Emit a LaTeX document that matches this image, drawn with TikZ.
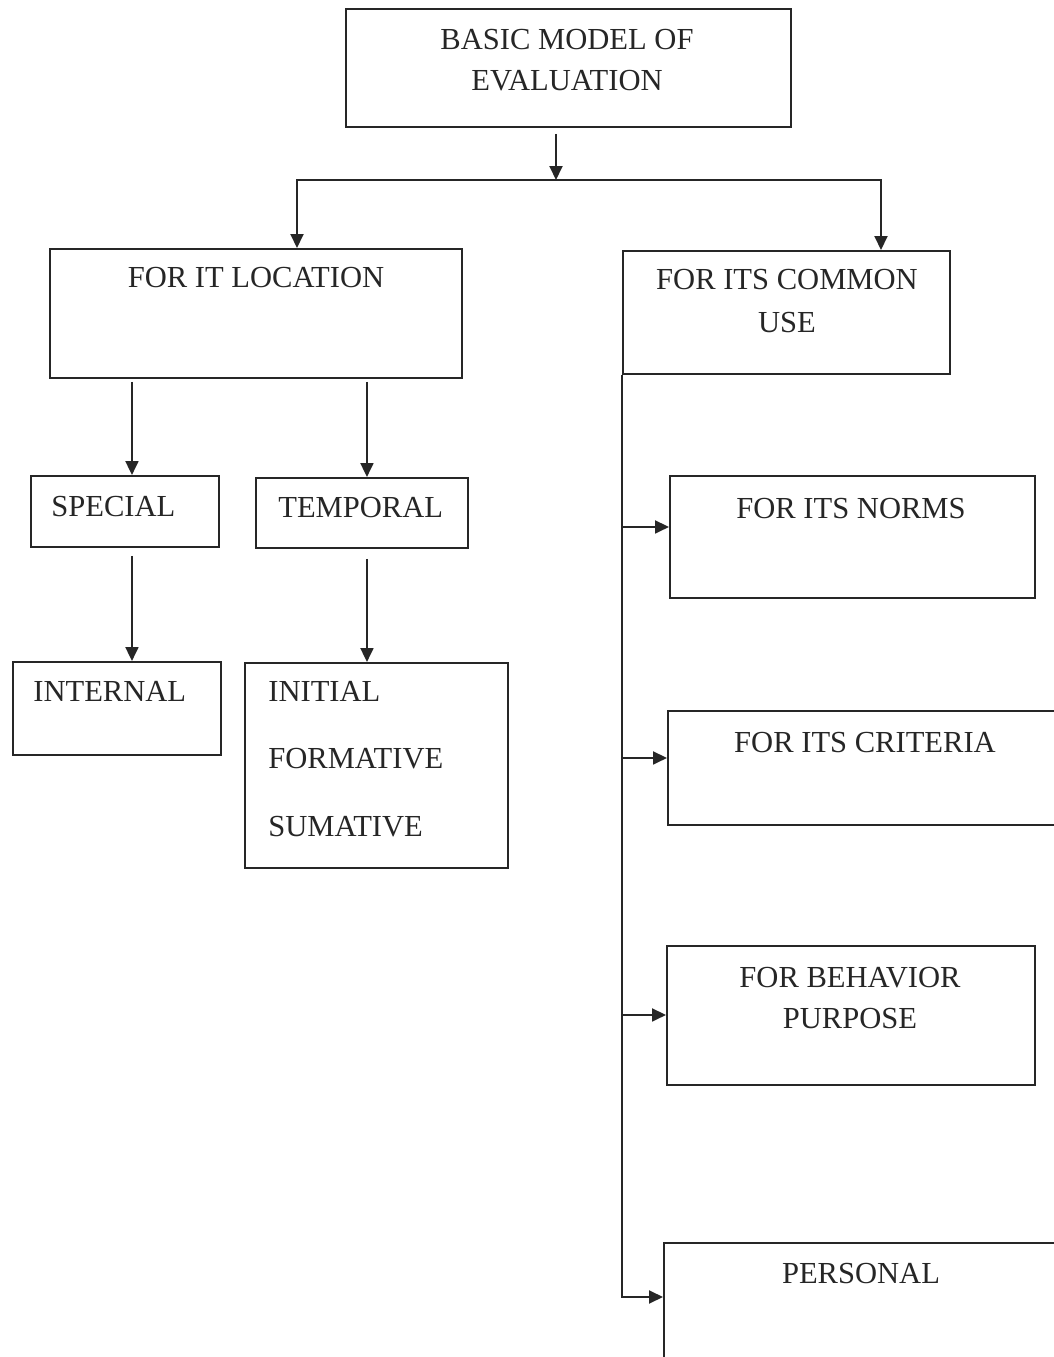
\documentclass[tikz,border=0pt]{standalone}
\usepackage{fontspec}
\setmainfont{Liberation Serif}
\usetikzlibrary{arrows.meta}

\begin{document}
\begin{tikzpicture}[
  x=0.02cm, y=-0.02cm,
  font=\fontsize{17.4}{23.3}\selectfont,
  box/.style={draw=black!85,line width=1.1pt,inner sep=0pt,anchor=north west},
  boxsize/.style 2 args={minimum width=#1*0.02cm,minimum height=#2*0.02cm},
  txt/.style={inner sep=0pt,align=center,text=black!85},
  arr/.style={draw=black!85,line width=1.1pt,-{Triangle[length=0.28cm,width=0.26cm]}}
]
  \useasboundingbox (0,0) rectangle (1054,1357);
  \fill[white] (0,0) rectangle (1054,1357);
  \clip (0,0) rectangle (1054,1357);

  % boxes
  \node[box,boxsize={445}{118}] (top) at (345,8) {};
  \node[box,boxsize={412}{129}] (loc) at (49,248) {};
  \node[box,boxsize={327}{123}] (com) at (622,250) {};
  \node[box,boxsize={188}{71}] (spec) at (30,475) {};
  \node[box,boxsize={212}{70}] (temp) at (255,477) {};
  \node[box,boxsize={208}{93}] (int) at (12,661) {};
  \node[box,boxsize={263}{205}] (kinds) at (244,662) {};
  \node[box,boxsize={365}{122}] (norms) at (669,475) {};
  \node[box,boxsize={420}{114}] (crit) at (667,710) {};
  \node[box,boxsize={368}{139}] (beh) at (666,945) {};
  \node[box,boxsize={420}{200}] (pers) at (663,1242) {};

  % texts (base = baseline of the last line)
  \node[txt,anchor=base] (top-t) at (567,90) {BASIC MODEL OF\\EVALUATION};
  \node[txt,anchor=base] (loc-t) at (256,287) {FOR IT LOCATION};
  \node[txt,anchor=base,font=\fontsize{17.4}{24}\selectfont] (com-t) at (787,332) {FOR ITS COMMON\\USE};
  \node[txt,anchor=base west] (spec-t) at (51,516) {SPECIAL};
  \node[txt,anchor=base west] (temp-t) at (278,517) {TEMPORAL};
  \node[txt,anchor=base west] (int-t) at (33,701) {INTERNAL};
  \node[txt,anchor=base west,align=left,font=\fontsize{17.4}{38.2}\selectfont] (kinds-t) at (268,836) {INITIAL\\FORMATIVE\\SUMATIVE};
  \node[txt,anchor=base] (norms-t) at (851,518) {FOR ITS NORMS};
  \node[txt,anchor=base] (crit-t) at (865,752) {FOR ITS CRITERIA};
  \node[txt,anchor=base] (beh-t) at (850,1028) {FOR BEHAVIOR\\PURPOSE};
  \node[txt,anchor=base] (pers-t) at (861,1283) {PERSONAL};

  % top split
  \coordinate (split) at (556,180);
  \coordinate (jl) at (297,180);
  \coordinate (jr) at (881,180);
  \draw[arr,shorten <=0.12cm] (top.south -| split) -- (split);
  \draw[arr] (split) -- (jl) -- (jl |- loc.north);
  \draw[arr] (split) -- (jr) -- (jr |- com.north);

  % left branch
  \draw[arr,shorten <=0.06cm] ([xshift=0.14cm]spec.north |- loc.south) -- ([xshift=0.14cm]spec.north);
  \draw[arr,shorten <=0.06cm] ([xshift=0.1cm]temp.north |- loc.south) -- ([xshift=0.1cm]temp.north);
  \draw[arr,shorten <=0.16cm] ([xshift=0.14cm]spec.south) -- ([xshift=0.14cm]spec.south |- int.north);
  \draw[arr,shorten <=0.2cm] ([xshift=0.1cm]temp.south) -- ([xshift=0.1cm]temp.south |- kinds.north);

  % right spine
  \draw[arr] (com.south west) |- ([yshift=-1.1cm]pers.north west);
  \foreach \b/\s in {norms/0.2cm,crit/0.2cm,beh/0.01cm}
    \draw[arr] ([yshift=\s]\b.west -| com.south west) -- ([yshift=\s]\b.west);
\end{tikzpicture}
\end{document}
